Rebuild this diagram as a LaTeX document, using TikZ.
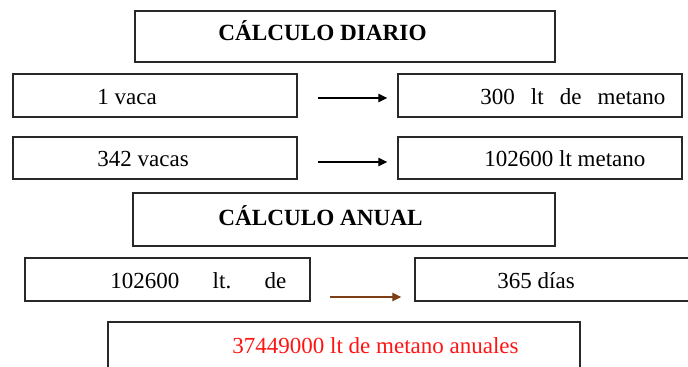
\documentclass[tikz,border=0pt]{standalone}
\usepackage{fontspec}
\setmainfont{Liberation Serif}
\usetikzlibrary{arrows.meta}
\definecolor{boxline}{RGB}{40,40,40}
\definecolor{brownarrow}{RGB}{125,62,20}
\definecolor{redtext}{RGB}{255,20,20}
\begin{document}
\begin{tikzpicture}[x=0.5pt,y=-0.5pt,
  box/.style={draw=boxline,line width=0.7pt,rectangle,inner sep=0pt},
  txt/.style={inner sep=0pt,anchor=base west,font=\fontsize{11.5}{13}\selectfont},
  ttl/.style={inner sep=0pt,anchor=base west,font=\fontsize{11.6}{13}\selectfont\bfseries},
  arr/.style={line width=0.6pt,-{Triangle[length=4.5pt,width=4.2pt]}}]
\useasboundingbox (0,0) rectangle (688,367);
\clip (0,0) rectangle (688,367);
% boxes
\node[box,minimum width=210pt,minimum height=25.5pt] (t1) at (345,36.5) {};
\node[box,minimum width=142pt,minimum height=21.5pt] (a1) at (155,95.5) {};
\node[box,minimum width=142pt,minimum height=21.5pt] (b1) at (540,95.5) {};
\node[box,minimum width=142pt,minimum height=21pt] (a2) at (155,158) {};
\node[box,minimum width=142pt,minimum height=21pt] (b2) at (540,158) {};
\node[box,minimum width=211pt,minimum height=26.5pt] (t2) at (344,219.5) {};
\node[box,minimum width=142.5pt,minimum height=21.5pt] (a3) at (167.5,279.5) {};
\node[box,minimum width=142.5pt,minimum height=21.5pt] (b3) at (557.5,279.5) {};
\node[box,minimum width=236pt,minimum height=27pt] (c) at (344,349) {};
% texts
\node[ttl] (t1t) at (218,41) {CÁLCULO DIARIO};
\node[txt] (a1t) at (97,105) {1 vaca};
\node[txt] (b1t) at (480,105) {300\hspace{0.7em}lt\hspace{0.7em}de\hspace{0.7em}metano};
\node[txt] (a2t) at (97,167) {342 vacas};
\node[txt] (b2t) at (484,167) {102600 lt metano};
\node[ttl] (t2t) at (218,226) {CÁLCULO ANUAL};
\node[txt] (a3t) at (110,288) {102600\hspace{1.45em}lt.\hspace{1.45em}de};
\node[txt] (b3t) at (497,288) {365 días};
\node[txt,text=redtext] (ct) at (232,353) {37449000 lt de metano anuales};
% arrows
\coordinate (s1) at (318,98);
\coordinate (s2) at (318,162);
\coordinate (s3) at (330,297);
\draw[arr] (s1) -- ([xshift=-5pt]s1 -| b1.west);
\draw[arr] (s2) -- ([xshift=-5pt]s2 -| b2.west);
\draw[arr,draw=brownarrow,fill=brownarrow] (s3) -- ([xshift=-6.5pt]s3 -| b3.west);
\end{tikzpicture}
\end{document}
